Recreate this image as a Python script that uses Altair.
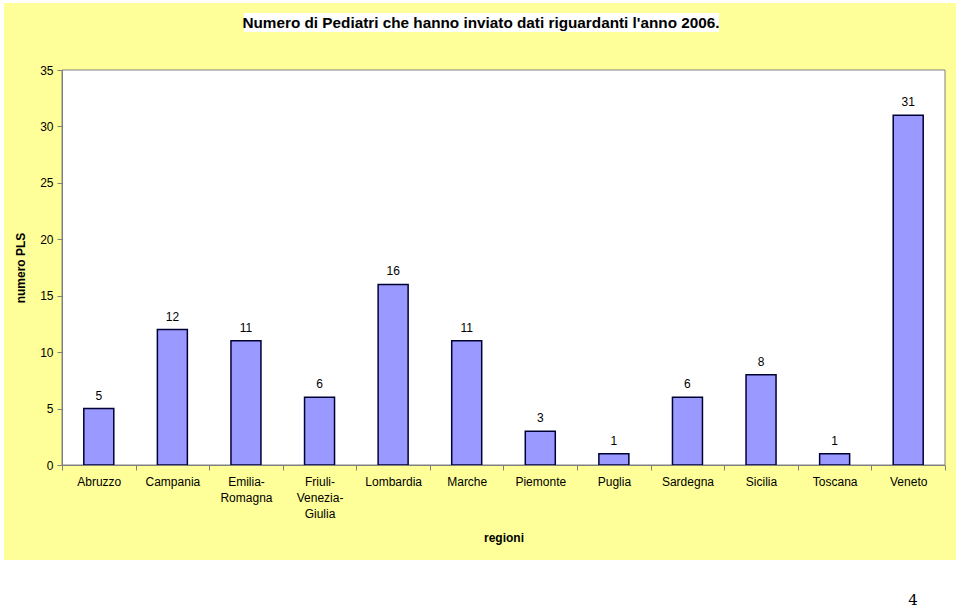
import altair as alt
import pandas as pd

regions = ["Abruzzo", "Campania", "Emilia-Romagna", "Friuli-Venezia-Giulia", "Lombardia",
           "Marche", "Piemonte", "Puglia", "Sardegna", "Sicilia", "Toscana", "Veneto"]
values = [5, 12, 11, 6, 16, 11, 3, 1, 6, 8, 1, 31]
y_ticks = [0, 5, 10, 15, 20, 25, 30, 35]

df = pd.DataFrame({"regione": regions, "numero": values})

W, H = 883, 395
FONT = "Liberation Sans"

label_expr = ("datum.label == 'Emilia-Romagna' ? ['Emilia-', 'Romagna'] : "
              "datum.label == 'Friuli-Venezia-Giulia' ? ['Friuli-', 'Venezia-', 'Giulia'] : datum.label")

one = alt.Data(values=[{}])

yellow = alt.Chart(one).mark_rect(color="#FFFF99").encode(
    x=alt.value(-58), x2=alt.value(894), y=alt.value(-67), y2=alt.value(490))
white = alt.Chart(one).mark_rect(fill="white", stroke="#808080", strokeWidth=1).encode(
    x=alt.value(0), x2=alt.value(W), y=alt.value(0), y2=alt.value(H))

title_bg = alt.Chart(one).mark_rect(fill="white").encode(
    x=alt.value(182), x2=alt.value(657), y=alt.value(-57), y2=alt.value(-38))
title = alt.Chart(one).mark_text(
    text="Numero di Pediatri che hanno inviato dati riguardanti l'anno 2006.",
    font=FONT, fontSize=15.3, fontWeight="bold", color="black", baseline="middle", align="center"
).encode(x=alt.value(419), y=alt.value(-47))

page = alt.Chart(one).mark_text(text="4", font="DejaVu Serif", fontSize=15, color="black",
                                baseline="middle", align="center").encode(
    x=alt.value(851), y=alt.value(530))

base = alt.Chart(df)
x_enc = alt.X("regione:N", sort=regions,
              scale=alt.Scale(paddingInner=0, paddingOuter=0),
              axis=alt.Axis(title="regioni", labelAngle=0, labelExpr=label_expr,
                            tickBand="extent", tickSize=5, tickColor="#808080",
                            domainColor="#808080", labelFont=FONT, labelFontSize=12,
                            labelColor="black", labelPadding=6, labelLineHeight=16,
                            titleFont=FONT, titleFontSize=12, titleFontWeight="bold",
                            titleColor="black", titleY=72, titleBaseline="middle",
                            zindex=1))
y_enc = alt.Y("numero:Q", scale=alt.Scale(domain=[0, 35], nice=False),
              axis=alt.Axis(title="numero PLS", values=y_ticks, grid=False, tickSize=5,
                            tickColor="#808080", domainColor="#808080", labelFont=FONT,
                            labelFontSize=12, labelColor="black", labelPadding=4,
                            titleFont=FONT, titleFontSize=12, titleFontWeight="bold",
                            titleColor="black", titlePadding=12, zindex=1))

bars = base.mark_bar(size=30, fill="#9999FF", stroke="#000033", strokeWidth=1.5).encode(
    x=x_enc, y=y_enc)
labels = base.mark_text(font=FONT, fontSize=12, color="black", baseline="bottom", dy=-6).encode(
    x=alt.X("regione:N", sort=regions), y="numero:Q", text="numero:Q")

chart = alt.layer(yellow, white, title_bg, title, page, bars, labels).properties(
    width=W, height=H,
    padding={"left": 62, "top": 70, "right": 15, "bottom": 146},
    autosize=alt.AutoSizeParams(type="none"),
    background="white",
).configure_view(stroke=None)

chart.save("out.html", embed_options={"renderer": "svg", "actions": False})
